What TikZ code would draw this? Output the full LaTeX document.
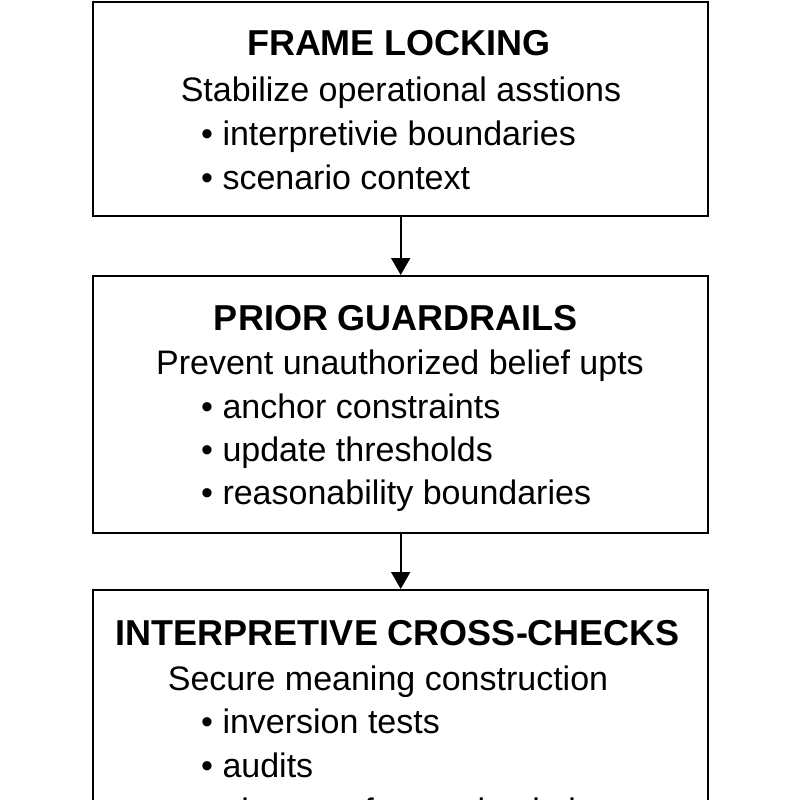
\documentclass[tikz,border=0pt]{standalone}
\usepackage{fontspec}
\setmainfont{Liberation Sans}
\usetikzlibrary{arrows.meta}
\begin{document}
\begin{tikzpicture}[x=1pt,y=-1pt,
  box/.style={draw,line width=2.4pt,minimum width=615pt,inner sep=0pt,anchor=north west},
  ttl/.style={font=\fontsize{36}{40}\selectfont\bfseries,anchor=base,inner sep=0pt},
  sub/.style={font=\fontsize{34}{40}\selectfont,anchor=base,inner sep=0pt},
  itm/.style={font=\fontsize{34}{40}\selectfont,anchor=base west,inner sep=0pt},
  arr/.style={line width=2pt,-{Triangle[length=17pt,width=19pt]}}]
\useasboundingbox (0,0) rectangle (800,800);
\clip (0,0) rectangle (800,800);
\node[box,minimum height=214pt] (b1) at (92,1) {};
\node[box,minimum height=257pt] (b2) at (92,275) {};
\node[box,minimum height=260pt] (b3) at (92,589) {};
\draw[arr] (b1.south) -- (b2.north);
\draw[arr] (b2.south) -- (b3.north);
% box 1
\node[ttl] (t1) at (399,56) {FRAME LOCKING};
\node[sub] (s1) at (401,101) {Stabilize operational asstions};
\node[itm] (i11) at (201,145) {• interpretivie boundaries};
\node[itm] (i12) at (201,189) {• scenario context};
% box 2
\node[ttl] (t2) at (396,330) {PRIOR GUARDRAILS};
\node[sub] (s2) at (400,374) {Prevent unauthorized belief upts};
\node[itm] (i21) at (201,418) {• anchor constraints};
\node[itm] (i22) at (201,461) {• update thresholds};
\node[itm] (i23) at (201,504) {• reasonability boundaries};
% box 3
\node[ttl] (t3) at (398,645) {INTERPRETIVE CROSS-CHECKS};
\node[sub] (s3) at (388,690) {Secure meaning construction};
\node[itm] (i31) at (201,733) {• inversion tests};
\node[itm] (i32) at (201,777) {• audits};
\node[itm] (i33) at (201,822) {• alternate frame simulations};
\end{tikzpicture}
\end{document}
